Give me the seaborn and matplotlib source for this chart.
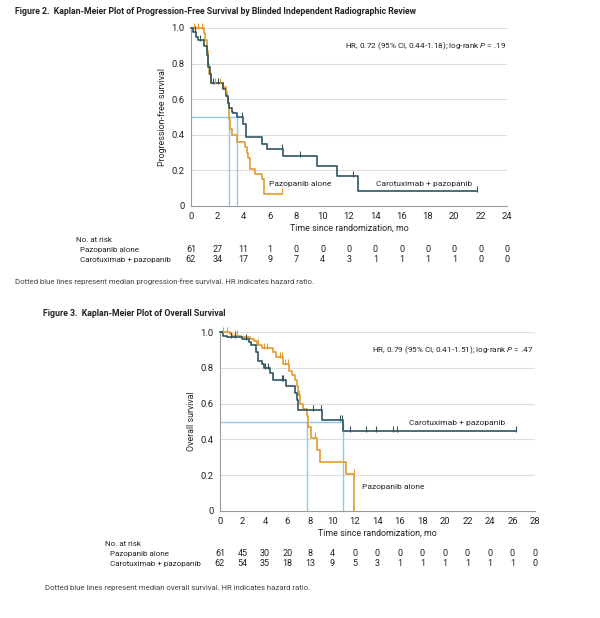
import matplotlib
matplotlib.use("Agg")
import matplotlib.pyplot as plt
import matplotlib.transforms as mtransforms
import seaborn as sns

ORANGE = "#E69A2E"
TEAL = "#2E5561"
BLUE = "#8FCBE8"
GRID = "#DDDDDD"
AXC = "#9A9A9A"

# ---- Figure 2: progression-free survival ----
pfs_paz_t = [0, 0.95, 1.1, 1.2, 1.3, 1.4, 1.5, 2.46, 2.64, 2.76, 2.84, 2.89, 2.97, 3.09, 3.47,
             4.1, 4.23, 4.36, 4.49, 4.87, 5.37, 5.55, 6.9]
pfs_paz_s = [1.0, 0.97, 0.93, 0.87, 0.80, 0.74, 0.69, 0.67, 0.64, 0.61, 0.58, 0.49, 0.43, 0.40, 0.36,
             0.33, 0.30, 0.27, 0.21, 0.18, 0.15, 0.07, 0.07]
pfs_paz_cens_t = [0.2, 0.56, 0.81, 1.83, 2.2, 2.66, 6.9]
pfs_paz_cens_s = [1.0, 1.0, 1.0, 0.69, 0.69, 0.64, 0.07]

pfs_car_t = [0, 0.18, 0.38, 0.56, 1.01, 1.19, 1.32, 1.44, 1.52, 2.46, 2.66, 2.79, 2.92, 3.09, 3.22,
             3.5, 3.98, 4.18, 5.37, 5.75, 6.97, 9.6, 11.1, 12.7, 21.7]
pfs_car_s = [1.0, 0.98, 0.95, 0.93, 0.90, 0.85, 0.78, 0.74, 0.69, 0.66, 0.62, 0.58, 0.55, 0.53, 0.52,
             0.50, 0.46, 0.385, 0.35, 0.32, 0.28, 0.225, 0.17, 0.085, 0.085]
pfs_car_cens_t = [0.3, 0.7, 1.7, 2.08, 3.9, 6.9, 8.25, 12.3, 21.7]
pfs_car_cens_s = [0.98, 0.93, 0.69, 0.69, 0.50, 0.32, 0.28, 0.17, 0.085]

pfs_medians = [2.89, 3.5]
pfs_ticks = list(range(0, 25, 2))
pfs_risk_paz = [61, 27, 11, 1, 0, 0, 0, 0, 0, 0, 0, 0, 0]
pfs_risk_car = [62, 34, 17, 9, 7, 4, 3, 1, 1, 1, 1, 0, 0]

# ---- Figure 3: overall survival ----
os_paz_t = [0, 0.9, 1.05, 1.9, 2.67, 3.0, 3.26, 3.7, 4.74, 5.0, 5.63, 6.16, 6.4, 6.67, 6.8, 6.96,
            7.14, 7.4, 7.7, 7.8, 8.1, 8.65, 8.9, 11.2, 11.94]
os_paz_s = [1.0, 0.99, 0.98, 0.97, 0.96, 0.95, 0.93, 0.91, 0.89, 0.86, 0.82, 0.78, 0.76, 0.73, 0.70, 0.65,
            0.60, 0.57, 0.53, 0.47, 0.41, 0.34, 0.275, 0.205, 0.0]
os_paz_cens_t = [0.3, 0.6, 1.3, 1.5, 3.4, 3.9, 4.2, 5.3, 5.5, 5.8, 6.0, 7.0, 8.4, 11.9]
os_paz_cens_s = [1.0, 1.0, 0.98, 0.98, 0.93, 0.91, 0.91, 0.86, 0.86, 0.82, 0.82, 0.65, 0.41, 0.205]

os_car_t = [0, 0.3, 0.6, 2.0, 2.6, 2.8, 3.2, 3.4, 3.7, 3.9, 4.44, 4.74, 5.9, 6.67, 6.8, 6.9,
            9.03, 10.93, 26.3]
os_car_s = [1.0, 0.98, 0.97, 0.96, 0.945, 0.93, 0.89, 0.84, 0.82, 0.80, 0.77, 0.73, 0.70, 0.66, 0.62, 0.565,
            0.51, 0.445, 0.445]
os_car_cens_t = [1.0, 1.3, 2.3, 4.0, 4.3, 5.5, 5.6, 8.3, 9.0, 10.7, 10.8, 11.56, 13.0, 13.9, 15.4, 15.7, 26.3]
os_car_cens_s = [0.97, 0.97, 0.96, 0.80, 0.80, 0.73, 0.73, 0.565, 0.565, 0.51, 0.51, 0.445, 0.445, 0.445,
                 0.445, 0.445, 0.445]

os_medians = [7.7, 10.93]
os_ticks = list(range(0, 29, 2))
os_risk_paz = [61, 45, 30, 20, 8, 4, 0, 0, 0, 0, 0, 0, 0, 0, 0]
os_risk_car = [62, 54, 35, 18, 13, 9, 5, 3, 1, 1, 1, 1, 1, 1, 0]

sns.set_theme(style="white")
plt.rcParams["font.family"] = ["Roboto", "DejaVu Sans"]
plt.rcParams["mathtext.fontset"] = "custom"
plt.rcParams["mathtext.it"] = "Roboto:italic"
plt.rcParams["mathtext.rm"] = "Roboto"

W, H = 600, 618
fig = plt.figure(figsize=(6, 6.18), dpi=100)
TXT = "#222222"


def fy(px):
    return 1 - px / H


def km_panel(rect, xmax, ticks, paz, car, medians, ylabel, hr, risk, labels, ypos):
    ax = fig.add_axes(rect)
    for (t, s, ct, cs), col in [(paz, ORANGE), (car, TEAL)]:
        sns.lineplot(x=t, y=s, drawstyle="steps-post", estimator=None, sort=False,
                     color=col, lw=1.2, ax=ax, clip_on=False, zorder=3)
        sns.scatterplot(x=ct, y=[v + 0.012 for v in cs], marker="|", s=20, color=col, linewidth=0.8,
                        ax=ax, clip_on=False, zorder=4)
    # median lines
    ax.plot([0, max(medians)], [0.5, 0.5], color=BLUE, lw=1.0, zorder=2)
    for m in medians:
        ax.plot([m, m], [0, 0.5], color=BLUE, lw=1.0, zorder=2)

    ax.set_xlim(0, xmax)
    ax.set_ylim(0, 1.0)
    ax.set_xticks(ticks)
    ax.set_yticks([0, 0.2, 0.4, 0.6, 0.8, 1.0])
    ax.set_yticklabels(["0", "0.2", "0.4", "0.6", "0.8", "1.0"])
    for y in [0.2, 0.4, 0.6, 0.8, 1.0]:
        ax.axhline(y, color=GRID, lw=0.8, zorder=0)
    sns.despine(ax=ax)
    for sp in ["left", "bottom"]:
        ax.spines[sp].set_color(AXC)
        ax.spines[sp].set_linewidth(0.8)
    ax.tick_params(axis="both", direction="out", length=3, width=0.7, color=AXC,
                   labelsize=6.8, pad=1.5, labelcolor=TXT)
    ax.set_xlabel("Time since randomization, mo", fontsize=6.4, labelpad=2, color=TXT)
    ax.set_ylabel(ylabel, fontsize=6.4, labelpad=3, color=TXT)
    ax.text(xmax - 0.1, 0.9, hr, ha="right", va="center", fontsize=5.9, color=TXT)
    for txt, x, y, ha in labels:
        ax.text(x, y, txt, ha=ha, va="center", fontsize=6, color=TXT)

    # number at risk table
    y_head, y1, y2, x_head, x_row = ypos
    tr = mtransforms.blended_transform_factory(ax.transData, fig.transFigure)
    fig.text(x_head / W, fy(y_head), "No. at risk", fontsize=5.8, va="center", color=TXT)
    fig.text(x_row / W, fy(y1), "Pazopanib alone", fontsize=5.8, va="center", color=TXT)
    fig.text(x_row / W, fy(y2), "Carotuximab + pazopanib", fontsize=5.8, va="center", color=TXT)
    for tk, a, b in zip(ticks, risk[0], risk[1]):
        ax.text(tk, fy(y1), str(a), transform=tr, ha="center", va="center", fontsize=6.5, color=TXT)
        ax.text(tk, fy(y2), str(b), transform=tr, ha="center", va="center", fontsize=6.5, color=TXT)
    return ax


fig.text(15 / W, fy(11), "Figure 2.  Kaplan-Meier Plot of Progression-Free Survival by Blinded Independent Radiographic Review",
         fontsize=6.3, fontweight="bold", va="center", color=TXT)
km_panel([191 / W, fy(206), 316 / W, 178 / H], 24, pfs_ticks,
         (pfs_paz_t, pfs_paz_s, pfs_paz_cens_t, pfs_paz_cens_s),
         (pfs_car_t, pfs_car_s, pfs_car_cens_t, pfs_car_cens_s),
         pfs_medians, "Progression-free survival",
         "HR, 0.72 (95% CI, 0.44-1.18); log-rank $P$ = .19",
         (pfs_risk_paz, pfs_risk_car),
         [("Pazopanib alone", 8.3, 0.124, "center"), ("Carotuximab + pazopanib", 17.7, 0.124, "center")],
         (240, 250, 260, 76, 80))
fig.text(15 / W, fy(282), "Dotted blue lines represent median progression-free survival. HR indicates hazard ratio.",
         fontsize=5.6, va="center", color="#444444")

fig.text(43 / W, fy(314), "Figure 3.  Kaplan-Meier Plot of Overall Survival",
         fontsize=6.3, fontweight="bold", va="center", color=TXT)
km_panel([220 / W, fy(511), 315 / W, 179 / H], 28, os_ticks,
         (os_paz_t, os_paz_s, os_paz_cens_t, os_paz_cens_s),
         (os_car_t, os_car_s, os_car_cens_t, os_car_cens_s),
         os_medians, "Overall survival",
         "HR, 0.79 (95% CI, 0.41-1.51); log-rank $P$ = .47",
         (os_risk_paz, os_risk_car),
         [("Carotuximab + pazopanib", 21.1, 0.49, "center"), ("Pazopanib alone", 12.6, 0.134, "left")],
         (544, 554, 564, 105, 110))
fig.text(45 / W, fy(588), "Dotted blue lines represent median overall survival. HR indicates hazard ratio.",
         fontsize=5.6, va="center", color="#444444")

fig.savefig("out.png", dpi=100)
